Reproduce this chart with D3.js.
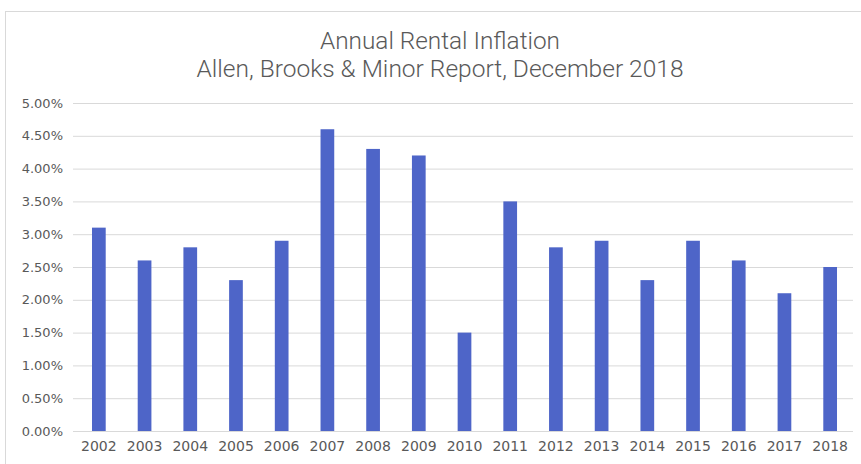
<!DOCTYPE html>
<html>
<head>
<meta charset="utf-8">
<script src="https://cdn.jsdelivr.net/npm/d3@7"></script>
<style>
  body { margin: 0; background: #fff; }
</style>
</head>
<body>
<div class="chart"></div>
<script>
const years = ['2002', '2003', '2004', '2005', '2006', '2007', '2008', '2009', '2010',
  '2011', '2012', '2013', '2014', '2015', '2016', '2017', '2018'];
const inflation = [3.1, 2.6, 2.8, 2.3, 2.9, 4.6, 4.3, 4.2, 1.5, 3.5, 2.8, 2.9, 2.3, 2.9, 2.6, 2.1, 2.5];
const yTicks = [0, 0.5, 1, 1.5, 2, 2.5, 3, 3.5, 4, 4.5, 5];
const titleLines = ['Annual Rental Inflation', 'Allen, Brooks & Minor Report, December 2018'];

const width = 861,
  height = 464,
  plotLeft = 73,
  plotRight = 853,
  plotTop = 103,
  plotBottom = 431,
  barColor = '#4e65c8',
  textColor = '#595959',
  gridColor = '#d9d9d9';

const data = years.map((y, i) => ({ year: y, value: inflation[i] }));

const svg = d3.select('.chart')
  .append('svg')
  .attr('width', width)
  .attr('height', height);

// outer chart frame
svg.append('rect')
  .attr('x', 5.5)
  .attr('y', 11.5)
  .attr('width', width)
  .attr('height', height)
  .attr('fill', 'none')
  .attr('stroke', '#d9d9d9');

// bands sit a little right of the gridline start
const xScale = d3.scaleBand()
  .domain(years)
  .range([plotLeft + 3, plotRight])
  .paddingInner(0.7)
  .paddingOuter(0.35);

const yScale = d3.scaleLinear()
  .domain([0, 5])
  .range([plotBottom, plotTop]);

// gridlines + y labels
const yAxis = d3.axisLeft(yScale)
  .tickValues(yTicks)
  .tickSize(-(plotRight - plotLeft))
  .tickPadding(10)
  .tickFormat(d => d.toFixed(2) + '%');

const yG = svg.append('g')
  .attr('transform', `translate(${plotLeft}, 0)`)
  .call(yAxis);
yG.select('.domain').remove();
yG.selectAll('line').attr('stroke', gridColor);
yG.selectAll('text')
  .attr('fill', textColor)
  .style('font', '13px "DejaVu Sans"');

// bars
svg.selectAll('.bar')
  .data(data)
  .enter()
  .append('rect')
  .attr('class', 'bar')
  .attr('x', d => xScale(d.year))
  .attr('y', d => yScale(d.value))
  .attr('width', xScale.bandwidth())
  .attr('height', d => yScale(0) - yScale(d.value))
  .attr('fill', barColor);

// x axis
const xAxis = d3.axisBottom(xScale)
  .tickSize(0)
  .tickPadding(10);

const xG = svg.append('g')
  .attr('transform', `translate(0, ${plotBottom})`)
  .call(xAxis);
xG.select('.domain')
  .attr('d', `M${plotLeft},0.5H${plotRight}`)
  .attr('stroke', gridColor);
xG.selectAll('text')
  .attr('fill', textColor)
  .style('font', '14px "DejaVu Sans"');

// title, squeezed to look like the narrow original face
const titleWidths = [240, 487];
svg.selectAll('.title')
  .data(titleLines)
  .enter()
  .append('text')
  .attr('class', 'title')
  .attr('x', 440)
  .attr('y', (d, i) => 49 + i * 28)
  .attr('text-anchor', 'middle')
  .attr('fill', textColor)
  .attr('textLength', (d, i) => titleWidths[i])
  .attr('lengthAdjust', 'spacingAndGlyphs')
  .style('font-family', 'Roboto, "DejaVu Sans", sans-serif')
  .style('font-weight', 300)
  .style('font-size', '23px')
  .text(d => d);
</script>
</body>
</html>
